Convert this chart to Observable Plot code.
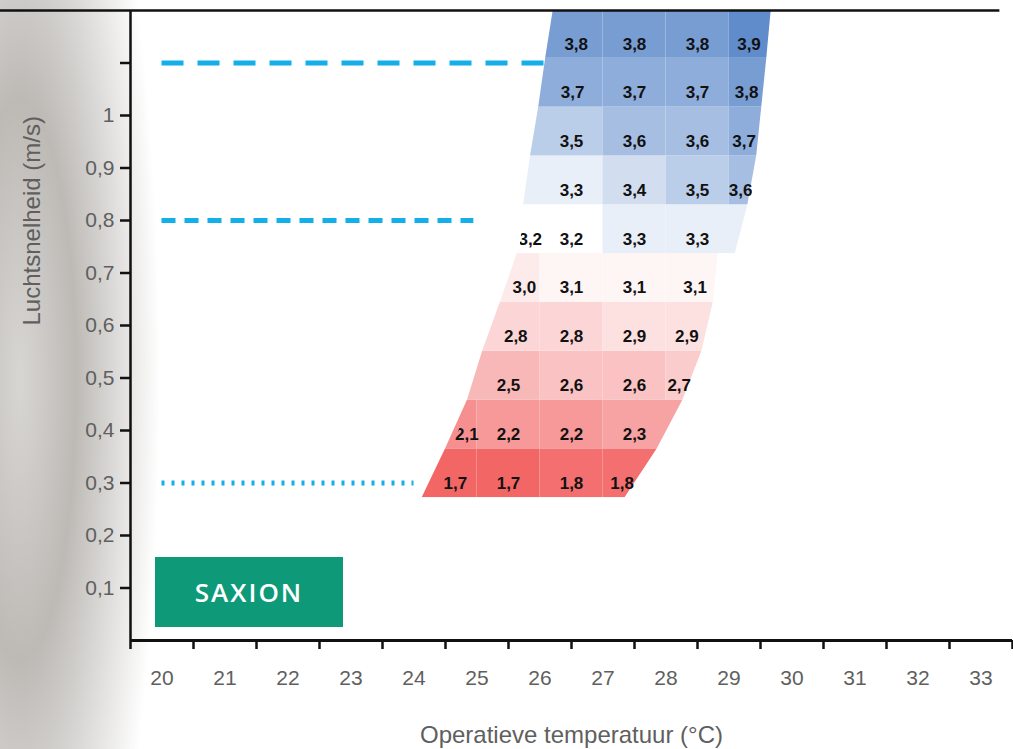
<!DOCTYPE html>
<html><head><meta charset="utf-8">
<script src="https://cdn.jsdelivr.net/npm/d3@7"></script>
<script src="https://cdn.jsdelivr.net/npm/@observablehq/plot@0.6"></script>
<style>
body{margin:0;background:#fff;font-family:"Open Sans",Arial,sans-serif}
#wrap{position:relative;width:1013px;height:749px;overflow:hidden;
background:radial-gradient(ellipse 140px 700px at 20px 380px,#d8d6d3 0%,#bdbab6 40%,rgba(255,255,255,0) 100%)}
#logo{position:absolute;left:155px;top:557px;width:188px;height:70px;background:#0e9a79;color:#fff;
font:600 26px "Open Sans",sans-serif;display:flex;align-items:center;justify-content:center;letter-spacing:2px}
</style></head><body>
<div id="wrap"></div>
<script>
// velocity rows (bottom to top) and temperature columns
const rowV = [0.3,0.4,0.5,0.6,0.7,0.8,0.9,1.0,1.1,1.2];
const colT = [24.5,25.5,26.5,27.5,28.5,29.5];
// values per row, per column (null = empty)
const values = [
  [1.7,1.7,1.8,1.8,null,null],
  [2.1,2.2,2.2,2.3,null,null],
  [null,2.5,2.6,2.6,2.7,null],
  [null,2.8,2.8,2.9,2.9,null],
  [null,3.0,3.1,3.1,3.1,null],
  [null,3.2,3.2,3.3,3.3,null],
  [null,null,3.3,3.4,3.5,3.6],
  [null,null,3.5,3.6,3.6,3.7],
  [null,null,3.7,3.7,3.7,3.8],
  [null,null,3.8,3.8,3.8,3.9]
];
// outline of the comfort area: row boundaries (m/s) and edge temperatures (°C)
const bounds = [0.272,0.365,0.458,0.551,0.644,0.737,0.830,0.923,1.016,1.109,1.2];
const leftEdge  = [24.13,24.5,24.85,25.09,25.37,25.64,25.74,25.85,25.98,26.09,26.21];
const rightEdge = [27.35,27.86,28.27,28.57,28.75,29.1,29.3,29.44,29.52,29.6,29.67];
const stepRight = {v:0.737, from:28.83};
const refLines = [
  {y:1.1, x2:26.1, dash:"22,14"},
  {y:0.8, x2:24.95, dash:"14,9"},
  {y:0.3, x2:24.0, dash:"3,7"}
];
const xTicks = d3.range(20,34);
const yTicks = [0.1,0.2,0.3,0.4,0.5,0.6,0.7,0.8,0.9,1.0,1.1];

const cells=[];
values.forEach((r,i)=>{
  const y1=bounds[i], y2=bounds[i+1];
  const Lmin=Math.min(leftEdge[i],leftEdge[i+1]), Lmid=(leftEdge[i]+leftEdge[i+1])/2;
  const Rmax=Math.max(rightEdge[i],rightEdge[i+1]), Rmid=(rightEdge[i]+rightEdge[i+1])/2;
  const idx=r.map((v,j)=>v==null?-1:j).filter(j=>j>=0);
  const first=idx[0], last=idx[idx.length-1];
  r.forEach((v,j)=>{
    if(v==null) return;
    let x1=colT[j]-0.5, x2=colT[j]+0.5;
    if(j===first) x1=Math.min(x1,Lmin-0.1);
    if(j===last) x2=Math.max(x2,Rmax+0.1);
    const a=Math.max(colT[j]-0.5,Lmid), b=Math.min(colT[j]+0.5,Rmid);
    cells.push({x1,x2,y1,y2,v,tx:(a+b)/2,ty:(y1+y2)/2});
  });
});
const fmt = d=>String(+d.toFixed(1)).replace(".",",");
const grey="#5f5f5f";
const plot = Plot.plot({
  width:1013,height:749,marginLeft:130,marginRight:1,marginTop:10,marginBottom:109,
  style:{background:"transparent",fontFamily:"Arial, Liberation Sans, sans-serif"},
  x:{domain:[19.5,33.5]},
  y:{domain:[0,1.2]},
  color:{type:"linear",domain:[1.6,3.2,4.0],range:["#f25c5c","#ffffff","#4a7cc4"]},
  marks:[
    Plot.rect(cells,{x1:"x1",x2:"x2",y1:"y1",y2:"y2",fill:"v",className:"cells"}),
    Plot.text(cells,{x:"tx",y:"ty",dy:10,text:d=>d.v.toFixed(1).replace(".",","),fontSize:17,fontWeight:"bold",fill:"#111",className:"cells"}),
    ...refLines.map(r=>Plot.ruleY([r.y],{x1:20,x2:r.x2,stroke:"#14aee8",strokeWidth:5,strokeDasharray:r.dash})),
    Plot.axisX(d3.range(19.5,34,1),{tickSize:9,tickFormat:()=>"",strokeWidth:2.5,stroke:"#111"}),
    Plot.axisX(xTicks,{tickSize:0,tickPadding:30,fontSize:21,fill:grey,tickFormat:d=>d,label:null}),
    Plot.text(["Operatieve temperatuur (°C)"],{frameAnchor:"bottom",dy:102,fontSize:24,fill:grey,textAnchor:"middle",lineAnchor:"bottom"}),
    Plot.axisY(yTicks,{tickSize:10,tickPadding:6,fontSize:21,fill:grey,stroke:"#111",strokeWidth:2.5,tickFormat:d=>d===1.1?"":fmt(d),label:null}),
    Plot.text(["Luchtsnelheid (m/s)"],{frameAnchor:"left",dx:-98,rotate:-90,fontSize:24,fill:grey}),
    Plot.ruleY([0],{stroke:"#111",strokeWidth:3}),
    Plot.ruleX([19.5],{stroke:"#111",strokeWidth:2.5}),
    Plot.ruleY([1.2],{x2:33.3,stroke:"#111",strokeWidth:2.5})
  ]
});
// clip the comfort area with its outline
const sx=plot.scale("x"), sy=plot.scale("y");
const right=[];
bounds.forEach((b,i)=>{
  if(b===stepRight.v) right.push([stepRight.from,b]);
  right.push([rightEdge[i],b]);
});
const poly=[...right, ...bounds.map((b,i)=>[leftEdge[i],b]).reverse()];
const pts=poly.map(([x,y])=>`${sx.apply(x)},${sy.apply(y)}`).join(" ");
const ns="http://www.w3.org/2000/svg";
const defs=document.createElementNS(ns,"defs");
defs.innerHTML=`<clipPath id="area"><polygon points="${pts}"/></clipPath>`;
plot.prepend(defs);
plot.querySelectorAll(".cells").forEach(g=>g.setAttribute("clip-path","url(#area)"));
plot.style.position="absolute";plot.style.left="0";plot.style.top="0";
const wrap=document.getElementById("wrap");
wrap.appendChild(plot);
const logo=document.createElement("div");logo.id="logo";logo.textContent="SAXION";
wrap.appendChild(logo);
</script></body></html>
